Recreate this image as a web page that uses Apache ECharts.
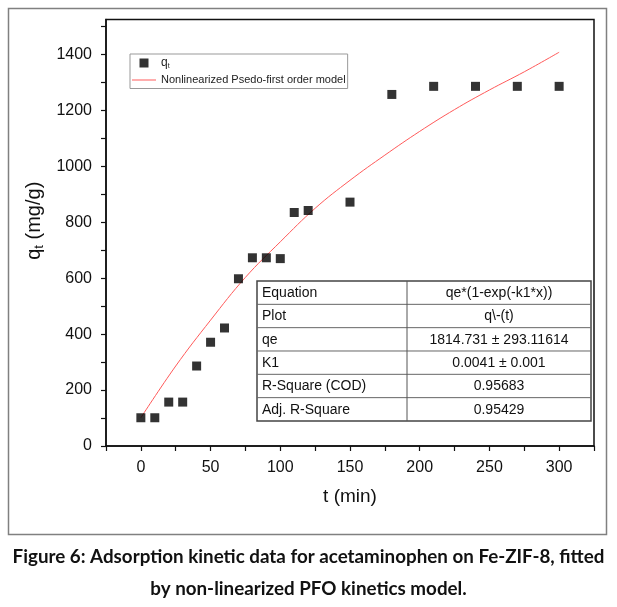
<!DOCTYPE html>
<html>
<head>
<meta charset="utf-8">
<script src="https://cdn.jsdelivr.net/npm/echarts@6/dist/echarts.min.js"></script>
<style>
html,body{margin:0;padding:0;background:#fff;}
#c{width:617px;height:607px;}
</style>
</head>
<body>
<div id="c"></div>
<script>
// Experimental data (t in min, qt in mg/g)
var tValues = [0, 10, 20, 30, 40, 50, 60, 70, 80, 90, 100, 110, 120, 150, 180, 210, 240, 270, 300];
var qtValues = [101, 101, 157, 157, 286, 371, 422, 598, 673, 673, 670, 835, 842, 872, 1257, 1286, 1286, 1286, 1286];
// Fitted curve
var fitT = [0, 25, 50, 75, 100, 125, 150, 175, 200, 225, 250, 275, 300];
var fitQ = [101, 286, 450, 603, 730, 850, 950, 1040, 1125, 1203, 1273, 1338, 1408];
// Tick labels
var xTickLabels = [0, 50, 100, 150, 200, 250, 300];
var yTickLabels = [0, 200, 400, 600, 800, 1000, 1200, 1400];
// Fit result table
var tableLabels = ['Equation', 'Plot', 'qe', 'K1', 'R-Square (COD)', 'Adj. R-Square'];
var tableValues = ['qe*(1-exp(-k1*x))', 'q\\-(t)', '1814.731 \u00b1 293.11614', '0.0041 \u00b1 0.001', '0.95683', '0.95429'];
var captionLines = ['Figure 6: Adsorption kinetic data for acetaminophen on Fe-ZIF-8, fitted', 'by non-linearized PFO kinetics model.'];

var chart = echarts.init(document.getElementById('c'), null, {renderer: 'canvas'});
var FONT = '"Liberation Sans", Arial, sans-serif';
var FIT_COLOR = '#ff5a5a';

var scatterData = tValues.map(function (t, i) { return [t, qtValues[i]]; });
var fitData = fitT.map(function (t, i) { return [t, fitQ[i]]; });

// table graphics
var tblX = 257, tblY = 281, tblW = 334, rowH = 23.33, colX = 407;
var tableEls = [];
tableEls.push({type: 'rect', shape: {x: tblX, y: tblY, width: tblW, height: rowH * tableLabels.length},
  style: {fill: '#fff', stroke: '#444', lineWidth: 1.5}, z: 10});
for (var r = 1; r < tableLabels.length; r++) {
  tableEls.push({type: 'line', shape: {x1: tblX, y1: tblY + r * rowH, x2: tblX + tblW, y2: tblY + r * rowH},
    style: {stroke: '#666', lineWidth: 1}, z: 11});
}
tableEls.push({type: 'line', shape: {x1: colX, y1: tblY, x2: colX, y2: tblY + rowH * tableLabels.length},
  style: {stroke: '#555', lineWidth: 1}, z: 11});
tableLabels.forEach(function (lab, i) {
  tableEls.push({type: 'text', x: tblX + 5, y: tblY + rowH * i + rowH / 2 + 0.5, z: 12,
    style: {text: lab, font: '14px ' + FONT, fill: '#111', textVerticalAlign: 'middle', verticalAlign: 'middle'}});
  tableEls.push({type: 'text', x: (colX + tblX + tblW) / 2, y: tblY + rowH * i + rowH / 2 + 0.5, z: 12,
    style: {text: tableValues[i], font: '14px ' + FONT, fill: '#111', align: 'center', textAlign: 'center', verticalAlign: 'middle', textVerticalAlign: 'middle'}});
});

var graphics = [
  {type: 'rect', shape: {x: 8.5, y: 8.5, width: 598, height: 526}, style: {fill: 'none', stroke: '#808080', lineWidth: 1.5}, z: -1, silent: true}
].concat(tableEls);
captionLines.forEach(function (line, i) {
  graphics.push({type: 'text', x: 308.5, y: 557 + i * 32, z: 12,
    style: {text: line, font: 'bold 18.8px Lato, "Open Sans", sans-serif', fill: '#111', align: 'center', textAlign: 'center', verticalAlign: 'middle', textVerticalAlign: 'middle'}});
});

var option = {
  animation: false,
  backgroundColor: '#fff',
  grid: {left: 106, right: 23, top: 19.5, bottom: 161, show: true, borderColor: '#111', borderWidth: 1.5, backgroundColor: 'transparent'},
  legend: {
    orient: 'vertical', left: 130, top: 54,
    padding: [3, 2, 3, 2], itemGap: 5, itemWidth: 24, itemHeight: 9,
    borderColor: '#999', borderWidth: 1, backgroundColor: '#fff',
    data: [
      {name: 'qt', icon: 'path://M0,0h10v10h-10z', itemStyle: {color: '#000'}},
      {name: 'fit', icon: 'path://M0,0h24v1h-24z', itemStyle: {color: FIT_COLOR, borderWidth: 0, opacity: 1}}
    ],
    formatter: function (n) { return n === 'qt' ? '{q|q}{s|t}' : 'Nonlinearized Psedo-first order model'; },
    textStyle: {fontFamily: FONT, fontSize: 11, color: '#222',
      rich: {q: {fontFamily: FONT, fontSize: 12, color: '#222', lineHeight: 13},
             s: {fontFamily: FONT, fontSize: 7, color: '#222', verticalAlign: 'bottom', lineHeight: 8}}}
  },
  xAxis: {
    type: 'value', min: -25, max: 325, interval: 25,
    name: 't (min)', nameLocation: 'middle', nameGap: 41,
    nameTextStyle: {fontFamily: FONT, fontSize: 19, color: '#111'},
    axisLine: {onZero: false, lineStyle: {color: '#111', width: 1.5}},
    axisTick: {show: true, length: 5, lineStyle: {color: '#111', width: 1.2}},
    axisLabel: {fontFamily: FONT, fontSize: 16, color: '#111', margin: 14,
      formatter: function (v) { return xTickLabels.indexOf(v) >= 0 ? String(v) : ''; }},
    splitLine: {show: false}
  },
  yAxis: {
    type: 'value', min: 0, max: 1525, interval: 100,
    name: '{q|q}{s|t}{q| (mg/g)}', nameLocation: 'middle', nameGap: 59,
    nameTextStyle: {fontFamily: FONT, fontSize: 20, color: '#111', padding: [0, 0, 0, 24],
      rich: {q: {fontFamily: FONT, fontSize: 20, color: '#111', lineHeight: 23},
             s: {fontFamily: FONT, fontSize: 13, color: '#111', verticalAlign: 'bottom', lineHeight: 13}}},
    axisLine: {onZero: false, lineStyle: {color: '#111', width: 1.5}},
    axisTick: {show: true, length: 5, lineStyle: {color: '#111', width: 1.2}},
    axisLabel: {fontFamily: FONT, fontSize: 16, color: '#111', margin: 14, showMaxLabel: false,
      formatter: function (v) { return yTickLabels.indexOf(v) >= 0 ? String(v) : ''; }},
    splitLine: {show: false}
  },
  series: [
    {name: 'fit', type: 'line', data: fitData, smooth: 0.4, symbol: 'none', showSymbol: false,
      color: FIT_COLOR, lineStyle: {color: FIT_COLOR, width: 1}, itemStyle: {color: FIT_COLOR}, z: 2},
    {name: 'qt', type: 'scatter', data: scatterData, symbol: 'rect', symbolSize: 9,
      itemStyle: {color: '#000'}, z: 3}
  ],
  graphic: graphics
};
chart.setOption(option);
</script>
</body>
</html>
